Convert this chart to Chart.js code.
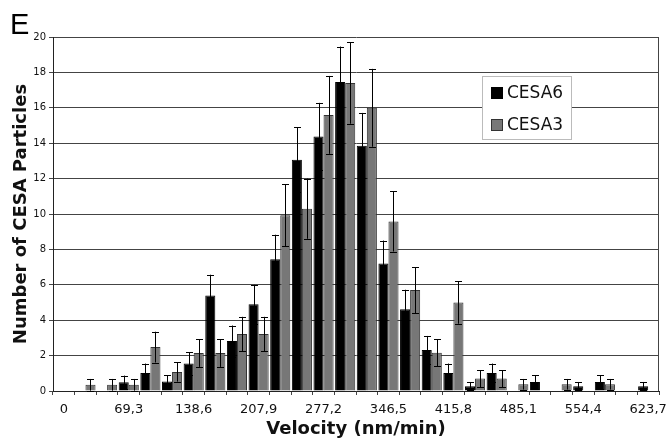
<!DOCTYPE html>
<html>
<head>
<meta charset="utf-8">
<script src="https://cdn.jsdelivr.net/npm/chart.js@4.4.0/dist/chart.umd.min.js"></script>
<style>
  body { margin: 0; background: #fff; }
  canvas { display: block; }
</style>
</head>
<body>
<canvas id="myChart" width="666" height="440"></canvas>
<script>
// velocity bins (nm/min), decimal comma as in the figure
var velocidad = ['0', '23,1', '46,2', '69,3', '92,4', '115,5', '138,6', '161,7', '184,8', '207,9',
  '231', '254,1', '277,2', '300,3', '323,4', '346,5', '369,6', '392,7', '415,8', '438,9',
  '462', '485,1', '508,2', '531,3', '554,4', '577,5', '600,6', '623,7'];

var cesa6 = [0, 0, 0, 0.5, 1.02, 0.53, 1.55, 5.4, 2.82, 4.9, 7.44, 13.07, 14.38, 17.46, 13.86,
  7.2, 4.62, 2.31, 1.02, 0.27, 1.02, 0, 0.51, 0, 0.27, 0.51, 0, 0.27];
var cesa6Err = [0, 0, 0, 0.37, 0.53, 0.37, 0.63, 1.17, 0.88, 1.1, 1.39, 1.83, 1.9, 2.0, 1.85,
  1.3, 1.1, 0.8, 0.53, 0.24, 0.53, 0, 0.38, 0, 0.24, 0.38, 0, 0.24];

var cesa3 = [0, 0.35, 0.35, 0.35, 2.48, 1.08, 2.14, 2.14, 3.22, 3.22, 9.93, 10.3, 15.6, 17.4, 16.0,
  9.58, 5.7, 2.16, 5.0, 0.7, 0.7, 0.38, 0, 0.38, 0, 0.38, 0, 0];
var cesa3Err = [0, 0.33, 0.33, 0.33, 0.87, 0.55, 0.78, 0.78, 0.97, 0.97, 1.74, 1.7, 2.2, 2.3, 2.2,
  1.7, 1.3, 0.76, 1.2, 0.48, 0.48, 0.3, 0, 0.3, 0, 0.3, 0, 0];

var yTicks = [0, 2, 4, 6, 8, 10, 12, 14, 16, 18, 20];

var errores = [cesa6Err, cesa3Err];

// error bars + frame + panel letter + legend box
var extras = {
  id: 'extras',
  afterDatasetsDraw: function (chart) {
    var ctx = chart.ctx, y = chart.scales.y;
    ctx.save();
    ctx.strokeStyle = '#000';
    ctx.lineWidth = 1;
    chart.data.datasets.forEach(function (ds, d) {
      var meta = chart.getDatasetMeta(d);
      meta.data.forEach(function (bar, i) {
        var e = errores[d][i];
        if (!e) return;
        var v = ds.data[i];
        var top = y.getPixelForValue(v + e);
        var bot = y.getPixelForValue(Math.max(v - e, 0));
        var x = Math.round(bar.x) + 0.5;
        ctx.beginPath();
        ctx.moveTo(x, top); ctx.lineTo(x, bot);
        ctx.moveTo(x - 3.5, Math.round(top) + 0.5); ctx.lineTo(x + 3.5, Math.round(top) + 0.5);
        ctx.moveTo(x - 3.5, Math.round(bot) + 0.5); ctx.lineTo(x + 3.5, Math.round(bot) + 0.5);
        ctx.stroke();
      });
    });
    ctx.restore();
  },
  afterDraw: function (chart) {
    var ctx = chart.ctx, a = chart.chartArea;
    ctx.save();
    ctx.strokeStyle = '#444';
    ctx.lineWidth = 1;
    ctx.beginPath();
    ctx.moveTo(a.right - 0.5, a.top);
    ctx.lineTo(a.right - 0.5, a.bottom);
    ctx.stroke();

    ctx.fillStyle = '#000';
    ctx.font = '29px "Liberation Sans"';
    ctx.textBaseline = 'alphabetic';
    ctx.fillText('E', 10, 34);

    // legend
    ctx.fillStyle = '#fff';
    ctx.fillRect(482, 76, 90, 64);
    ctx.strokeStyle = '#bbb';
    ctx.strokeRect(482.5, 76.5, 89, 63);
    ctx.font = '17px "DejaVu Sans"';
    ctx.textBaseline = 'middle';
    chart.data.datasets.forEach(function (ds, d) {
      var cy = 93 + d * 32;
      ctx.fillStyle = ds.backgroundColor;
      ctx.fillRect(491, cy - 6, 12, 12);
      ctx.strokeStyle = ds.borderColor;
      ctx.strokeRect(491.5, cy - 5.5, 11, 11);
      ctx.fillStyle = '#111';
      ctx.fillText(ds.label, 507, cy + 1);
    });
    ctx.restore();
  }
};

var barChart = new Chart('myChart', {
  type: 'bar',
  data: {
    labels: velocidad,
    datasets: [{
      label: 'CESA6',
      data: cesa6,
      backgroundColor: '#000000',
      borderColor: '#000000',
      borderWidth: 1
    }, {
      label: 'CESA3',
      data: cesa3,
      backgroundColor: '#777777',
      borderColor: '#333333',
      borderWidth: 1
    }]
  },
  options: {
    responsive: false,
    animation: false,
    layout: { padding: { left: 0, right: 7, top: 37, bottom: 0 } },
    categoryPercentage: 0.93,
    barPercentage: 1.0,
    plugins: {
      legend: { display: false },
      tooltip: { enabled: false }
    },
    scales: {
      x: {
        grid: { drawOnChartArea: false, drawTicks: true, tickLength: 4, color: '#444', offset: true },
        border: { color: '#222', width: 1 },
        ticks: {
          autoSkip: false, maxRotation: 0, padding: 7, color: '#111',
          font: { family: 'DejaVu Sans', size: 13 },
          callback: function (val, i) { return i % 3 === 0 ? velocidad[i] : ''; }
        },
        title: {
          display: true, text: 'Velocity (nm/min)', color: '#111',
          font: { family: 'DejaVu Sans', size: 18, weight: 'bold' },
          padding: { top: 0, bottom: 0 }
        },
        afterFit: function (s) { s.height = 49; s.paddingLeft = 0; s.paddingRight = 0; }
      },
      y: {
        min: 0, max: 20,
        afterBuildTicks: function (s) { s.ticks = yTicks.map(function (v) { return { value: v }; }); },
        grid: { color: '#444', lineWidth: 1, tickLength: 4 },
        border: { color: '#222', width: 1 },
        ticks: { padding: 3, color: '#111', font: { family: 'DejaVu Sans', size: 10 } },
        title: {
          display: true, text: 'Number of CESA Particles', color: '#111',
          font: { family: 'DejaVu Sans', size: 18, weight: 'bold' },
          padding: { top: 11, bottom: 0 }
        },
        afterFit: function (s) { s.width = 53; s.paddingTop = 0; s.paddingBottom = 0; }
      }
    }
  },
  plugins: [extras]
});
</script>
</body>
</html>
